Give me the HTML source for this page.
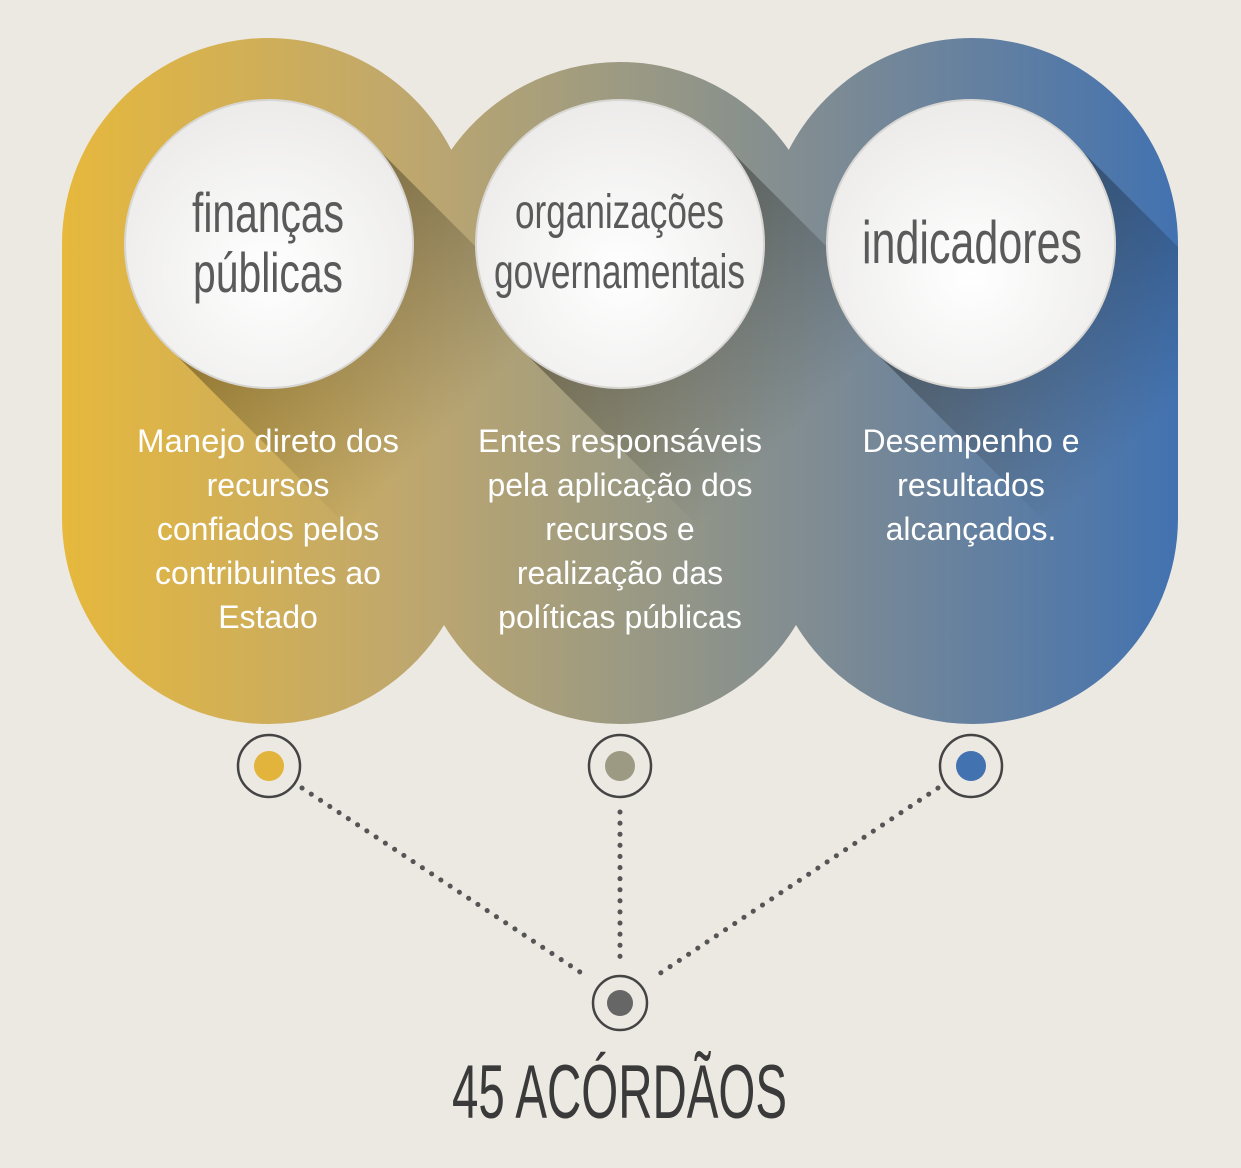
<!DOCTYPE html>
<html><head><meta charset="utf-8"><style>
html,body{margin:0;padding:0;background:#ece8e2;}
svg{display:block}
</style></head><body>
<svg width="1241" height="1168" viewBox="0 0 1241 1168" xmlns="http://www.w3.org/2000/svg">
<defs>
<linearGradient id="g" x1="62" y1="0" x2="1178" y2="0" gradientUnits="userSpaceOnUse">
<stop offset="0" stop-color="#e6b83c"/>
<stop offset="0.3" stop-color="#c0a86c"/>
<stop offset="0.5" stop-color="#9c9a82"/>
<stop offset="0.7" stop-color="#7b8a95"/>
<stop offset="1" stop-color="#4272b0"/>
</linearGradient>
<clipPath id="pc">
<rect x="62" y="38" width="412" height="686" rx="206"/>
<rect x="414" y="62" width="412" height="662" rx="206"/>
<rect x="766" y="38" width="412" height="686" rx="206"/>
</clipPath>
<linearGradient id="sh" x1="0" y1="0" x2="1" y2="1" gradientUnits="objectBoundingBox">
<stop offset="0.3" stop-color="#000" stop-opacity="0.32"/>
<stop offset="0.7" stop-color="#000" stop-opacity="0"/>
</linearGradient>
<radialGradient id="cw" cx="0.5" cy="0.6" r="0.6">
<stop offset="0" stop-color="#ffffff"/>
<stop offset="1" stop-color="#ecebea"/>
</radialGradient>
</defs>
<g clip-path="url(#pc)">
<rect x="0" y="0" width="1241" height="760" fill="url(#g)"/>
<polygon points="167,346 371,142 571,342 367,546" fill="url(#sh)"/>
<polygon points="518,346 722,142 922,342 718,546" fill="url(#sh)"/>
<polygon points="869,346 1073,142 1273,342 1069,546" fill="url(#sh)"/>
</g>
<g stroke="#d8d6d2" stroke-width="2" fill="url(#cw)">
<circle cx="269" cy="244" r="144"/>
<circle cx="620" cy="244" r="144"/>
<circle cx="971" cy="244" r="144"/>
</g>
<g font-family="Liberation Sans, sans-serif" fill="#5a5a5a">
<text x="192" y="232" font-size="56" textLength="152" lengthAdjust="spacingAndGlyphs">finanças</text>
<text x="193" y="292" font-size="56" textLength="150" lengthAdjust="spacingAndGlyphs">públicas</text>
<text x="515" y="228" font-size="48" textLength="209" lengthAdjust="spacingAndGlyphs">organizações</text>
<text x="494" y="288" font-size="48" textLength="251" lengthAdjust="spacingAndGlyphs">governamentais</text>
<text x="862" y="263" font-size="60" textLength="220" lengthAdjust="spacingAndGlyphs">indicadores</text>
</g>
<g font-family="Liberation Sans, sans-serif" font-size="32" fill="#fff" text-anchor="middle">
<text x="268" y="452" textLength="262" lengthAdjust="spacingAndGlyphs">Manejo direto dos</text>
<text x="268" y="496">recursos</text>
<text x="268" y="540">confiados pelos</text>
<text x="268" y="584">contribuintes ao</text>
<text x="268" y="628">Estado</text>
<text x="620" y="452" textLength="284" lengthAdjust="spacingAndGlyphs">Entes responsáveis</text>
<text x="620" y="496">pela aplicação dos</text>
<text x="620" y="540">recursos e</text>
<text x="620" y="584">realização das</text>
<text x="620" y="628">políticas públicas</text>
<text x="971" y="452">Desempenho e</text>
<text x="971" y="496">resultados</text>
<text x="971" y="540">alcançados.</text>
</g>
<g stroke="#555" stroke-width="5" stroke-linecap="round" stroke-dasharray="0.1 11" fill="none">
<line x1="302" y1="788" x2="586" y2="976"/>
<line x1="620" y1="812" x2="620" y2="958"/>
<line x1="938" y1="788" x2="656" y2="976"/>
</g>
<g fill="none" stroke="#444" stroke-width="2.5">
<circle cx="269" cy="766" r="31"/>
<circle cx="620" cy="766" r="31"/>
<circle cx="971" cy="766" r="31"/>
<circle cx="620" cy="1003" r="27"/>
</g>
<circle cx="269" cy="766" r="15" fill="#e3b43c"/>
<circle cx="620" cy="766" r="15" fill="#9c9a82"/>
<circle cx="971" cy="766" r="15" fill="#4272b0"/>
<circle cx="620" cy="1003" r="13" fill="#666"/>
<text x="452" y="1118" font-family="Liberation Sans, sans-serif" font-size="76" fill="#3a3a3a" textLength="335" lengthAdjust="spacingAndGlyphs">45 ACÓRDÃOS</text>
</svg>
</body></html>
